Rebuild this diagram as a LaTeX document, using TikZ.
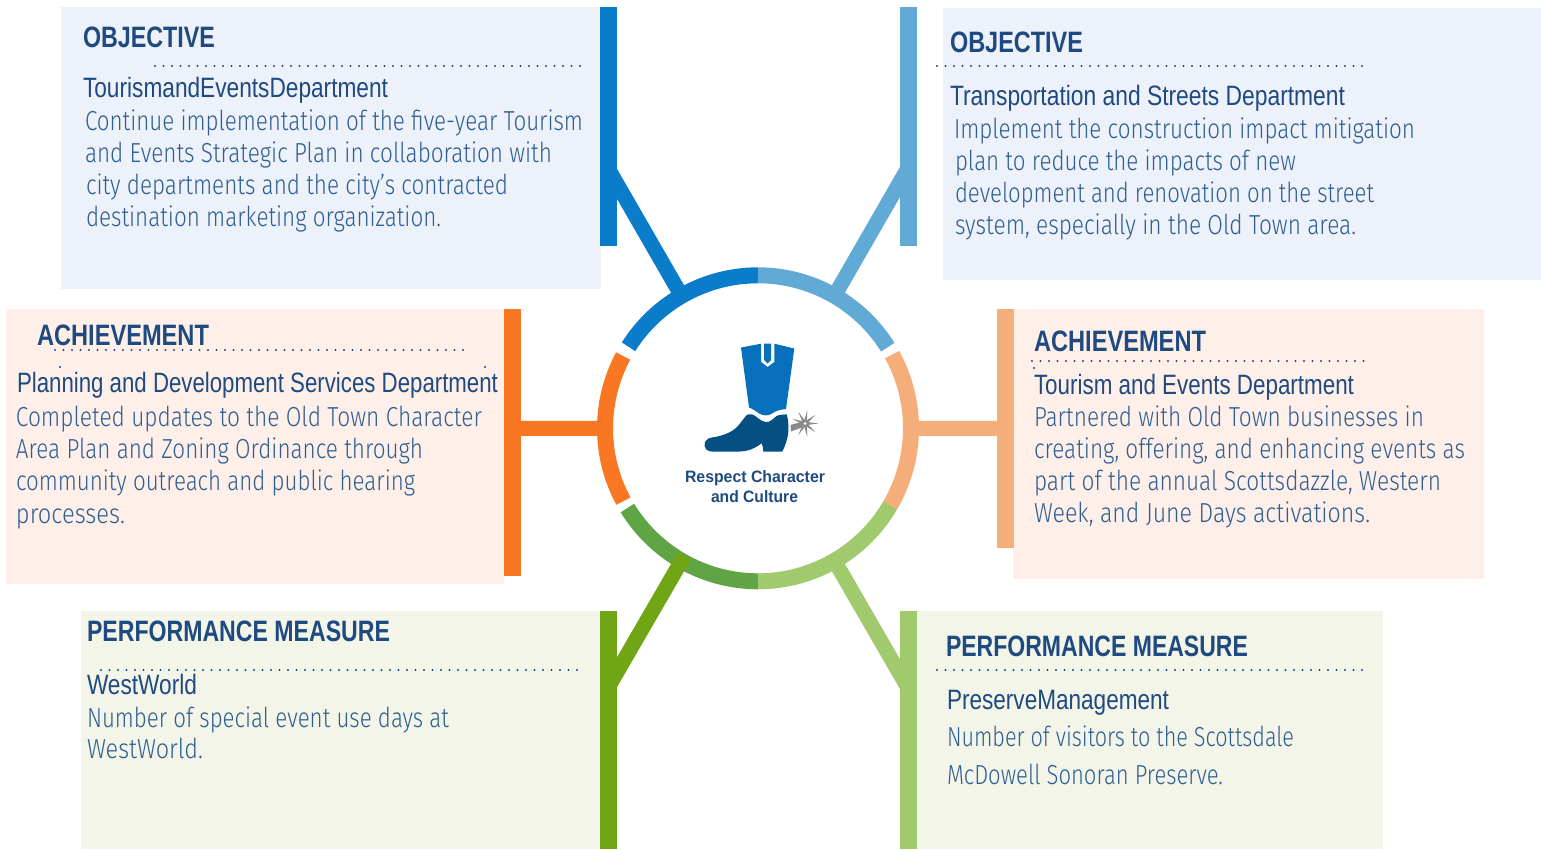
\documentclass[tikz,border=0pt]{standalone}
\usepackage{fontspec}
\usepackage{graphicx}
\setmainfont{Liberation Sans}
\newfontfamily\bodyfont{Fira Sans Light}
\definecolor{ink}{HTML}{1F4A80}
\definecolor{bodyink}{HTML}{2F5F92}
\definecolor{cBlue}{HTML}{0B7CC9}
\definecolor{cSky}{HTML}{62AAD6}
\definecolor{cOrange}{HTML}{F97722}
\definecolor{cPeach}{HTML}{F5AE7A}
\definecolor{cGreen}{HTML}{70A515}
\definecolor{cMoss}{HTML}{5FA546}
\definecolor{cLime}{HTML}{A1CA6F}
\definecolor{pBlue}{HTML}{EDF1FA}
\definecolor{pRose}{HTML}{FEEFE9}
\definecolor{pSage}{HTML}{F2F5E8}
\definecolor{bootA}{HTML}{0670BC}
\definecolor{bootB}{HTML}{045083}
\definecolor{spur}{HTML}{8A8A8C}
\newcommand{\tl}[6]{\node[txt,text=#5,font=#6] (#1) at (#2) {\resizebox{#3pt}{\height}{#4}};}
\tikzset{
  x=1pt,y=-1pt,
  txt/.style={anchor=base west,inner sep=0pt,outer sep=0pt},
  panel/.style={anchor=north west,inner sep=0pt,outer sep=0pt},
  stub/.style={line width=15pt},
  arcseg/.style={line width=16pt},
  dots/.style={draw=ink,line width=2.3pt,line cap=round,dash pattern=on 0pt off 8.5pt},
}
\newcommand{\hfont}{\bfseries\fontsize{29.5}{30}\selectfont}
\newcommand{\tfont}{\fontsize{28}{28}\selectfont}
\newcommand{\bfont}{\bodyfont\fontsize{27.5}{28}\selectfont}
\begin{document}
\begin{tikzpicture}
\useasboundingbox (0,0) rectangle (1541,849);
% panels
\node[panel,fill=pBlue,minimum width=540pt,minimum height=282pt] (pTL) at (61,7) {};
\node[panel,fill=pBlue,minimum width=598pt,minimum height=272pt] (pTR) at (943,8) {};
\node[panel,fill=pRose,minimum width=498pt,minimum height=275pt] (pL) at (6,309) {};
\node[panel,fill=pRose,minimum width=471pt,minimum height=270pt] (pR) at (1013,309) {};
\node[panel,fill=pSage,minimum width=519pt,minimum height=238pt] (pBL) at (81,611) {};
\node[panel,fill=pSage,minimum width=466pt,minimum height=238pt] (pBR) at (917,611) {};
% hub and bar anchors
\node[circle,inner sep=0pt,outer sep=0pt,minimum size=294pt] (hub) at (758,428.3) {};
\coordinate (jTL) at (609,170);
\coordinate (jTR) at (908,168);
\coordinate (jBL) at (609,686);
\coordinate (jBR) at (908,688);
\coordinate (jL) at (512,428.5);
\coordinate (jR) at (1005,428.5);
% connectors under ring
\draw[stub,cBlue] (hub.120) -- (jTL);
\draw[stub,cSky] (hub.60) -- (jTR);
\draw[stub,cOrange] (hub.180) -- (jL);
\draw[stub,cPeach] (hub.0) -- (jR);
\draw[stub,cLime] (hub.-60) -- (jBR);
% ring
\begin{scope}[shift={(758,428.3)}]
\draw[arcseg,cBlue] (90:153pt) arc[start angle=90,end angle=147.8,radius=153pt];
\draw[arcseg,cSky] (90:153pt) arc[start angle=90,end angle=32,radius=153pt];
\draw[arcseg,cOrange] (151.8:153pt) arc[start angle=151.8,end angle=208.4,radius=153pt];
\draw[arcseg,cPeach] (28.8:153pt) arc[start angle=28.8,end angle=-30.2,radius=153pt];
\draw[arcseg,cMoss] (211.4:153pt) arc[start angle=211.4,end angle=270,radius=153pt];
\draw[arcseg,cLime] (-30.2:153pt) arc[start angle=-30.2,end angle=-90,radius=153pt];
\end{scope}
\draw[stub,cGreen] (hub.-120) -- (jBL);
% bars
\fill[cBlue] (600,7) rectangle (617,246);
\fill[cSky] (900,7) rectangle (917,246);
\fill[cOrange] (504,309) rectangle (521,576);
\fill[cPeach] (997,309) rectangle (1014,548);
\fill[cGreen] (600,611) rectangle (617,849);
\fill[cLime] (900,611) rectangle (917,849);
% dotted rules
\draw[dots] (155,66) -- (583,66);
\draw[dots] (937,66) -- (1365,66);
\draw[dots] (55,350) -- (465,350);
\draw[dots] (1032,361) -- (1370,361);
\draw[dots] (101,670) -- (583,670);
\draw[dots] (937,670) -- (1365,670);
\fill[ink] (60,367) circle[radius=1.1pt] (485,367) circle[radius=1.1pt] (1034,368) circle[radius=1.1pt];
% boot
\fill[bootA] (741,347.5) -- (761,343.7) -- (761,362) -- (767.7,367) -- (774.3,362) -- (774.3,343.7) -- (794.3,348.5)
  -- (786,409) .. controls (781,409.5) and (776,410.5) .. (772,413.5) .. controls (768,416.5) and (763,415.5) .. (759,413.5)
  .. controls (756,411) and (752,408.5) .. (749,407.5) -- cycle;
\fill[bootA] (764,343.5) -- (771,343.5) -- (771,360) -- (767.7,363.5) -- (764,360) -- cycle;
\fill[bootB] (746.7,415) .. controls (750,413.5) and (753,414) .. (756,416.5) .. controls (760,420) and (764,422.5) .. (768,422)
  .. controls (772,421) and (775,416) .. (779,415) -- (786.7,414.3) .. controls (788.5,420) and (788.5,427) .. (788.3,432)
  .. controls (787.5,440) and (785,446) .. (782.3,451.7) -- (763.3,451.7) .. controls (763.3,448.5) and (762.8,446) .. (761.7,443.3)
  .. controls (757,446.5) and (752,450) .. (745,451) .. controls (740,451.7) and (736,451.7) .. (733,451.7)
  -- (713,451.7) .. controls (707,451.7) and (703,448) .. (705,442) .. controls (706,439) and (709,438) .. (713,437.3)
  .. controls (722,436) and (730,433) .. (735.5,428.3) .. controls (740,424.5) and (743,419) .. (746.7,415) -- cycle;
\fill[spur] (790.5,425) -- (801,422) -- (803,427) -- (791,431.5) -- cycle;
\foreach \a in {0,40,...,320}{
  \fill[spur,shift={(805,423.5)},rotate=\a+10] (-1.5,2) -- (0,13.5) -- (1.5,2) -- cycle;
}
\fill[spur] (805,423.5) circle[radius=3.5pt];
\fill[white] (805,423.5) circle[radius=1.5pt];
% hub label
\tl{hubA}{685,482}{140}{Respect Character}{ink}{\bfseries\fontsize{16.5}{18}\selectfont}
\tl{hubB}{711,502}{87}{and Culture}{ink}{\bfseries\fontsize{16.5}{18}\selectfont}
% top left
\tl{tlH}{83,47}{132}{OBJECTIVE}{ink}{\hfont}
\tl{tlT}{83,97.5}{305}{TourismandEventsDepartment}{ink}{\tfont}
\tl{tlA}{85,130}{498}{Continue implementation of the five-year Tourism}{bodyink}{\bfont}
\tl{tlB}{85,162}{467}{and Events Strategic Plan in collaboration with}{bodyink}{\bfont}
\tl{tlC}{86,194}{422}{city departments and the city’s contracted}{bodyink}{\bfont}
\tl{tlD}{86,226}{355}{destination marketing organization.}{bodyink}{\bfont}
% top right
\tl{trH}{950,52}{133}{OBJECTIVE}{ink}{\hfont}
\tl{trT}{950,105}{395}{Transportation and Streets Department}{ink}{\tfont}
\tl{trA}{954,138}{461}{Implement the construction impact mitigation}{bodyink}{\bfont}
\tl{trB}{955,170}{341}{plan to reduce the impacts of new}{bodyink}{\bfont}
\tl{trC}{955,202}{419}{development and renovation on the street}{bodyink}{\bfont}
\tl{trD}{955,234}{401}{system, especially in the Old Town area.}{bodyink}{\bfont}
% left
\tl{lH}{37,345}{172}{ACHIEVEMENT}{ink}{\hfont}
\tl{lT}{17,392}{481}{Planning and Development Services Department}{ink}{\tfont}
\tl{lA}{16,426}{466}{Completed updates to the Old Town Character}{bodyink}{\bfont}
\tl{lB}{16,458}{407}{Area Plan and Zoning Ordinance through}{bodyink}{\bfont}
\tl{lC}{16,490}{399}{community outreach and public hearing}{bodyink}{\bfont}
\tl{lD}{16,523}{109}{processes.}{bodyink}{\bfont}
% right
\tl{rH}{1034,351}{172}{ACHIEVEMENT}{ink}{\hfont}
\tl{rT}{1034,394}{320}{Tourism and Events Department}{ink}{\tfont}
\tl{rA}{1034,426}{390}{Partnered with Old Town businesses in}{bodyink}{\bfont}
\tl{rB}{1034,458}{431}{creating, offering, and enhancing events as}{bodyink}{\bfont}
\tl{rC}{1034,490}{407}{part of the annual Scottsdazzle, Western}{bodyink}{\bfont}
\tl{rD}{1034,522}{336}{Week, and June Days activations.}{bodyink}{\bfont}
% bottom left
\tl{blH}{87,641}{303}{PERFORMANCE MEASURE}{ink}{\hfont}
\tl{blT}{87,694}{110}{WestWorld}{ink}{\tfont}
\tl{blA}{87,727}{362}{Number of special event use days at}{bodyink}{\bfont}
\tl{blB}{87,758}{116}{WestWorld.}{bodyink}{\bfont}
% bottom right
\tl{brH}{946,656}{302}{PERFORMANCE MEASURE}{ink}{\hfont}
\tl{brT}{947,709}{222}{PreserveManagement}{ink}{\tfont}
\tl{brA}{947,746}{347}{Number of visitors to the Scottsdale}{bodyink}{\bfont}
\tl{brB}{947,784}{276}{McDowell Sonoran Preserve.}{bodyink}{\bfont}
\end{tikzpicture}
\end{document}
